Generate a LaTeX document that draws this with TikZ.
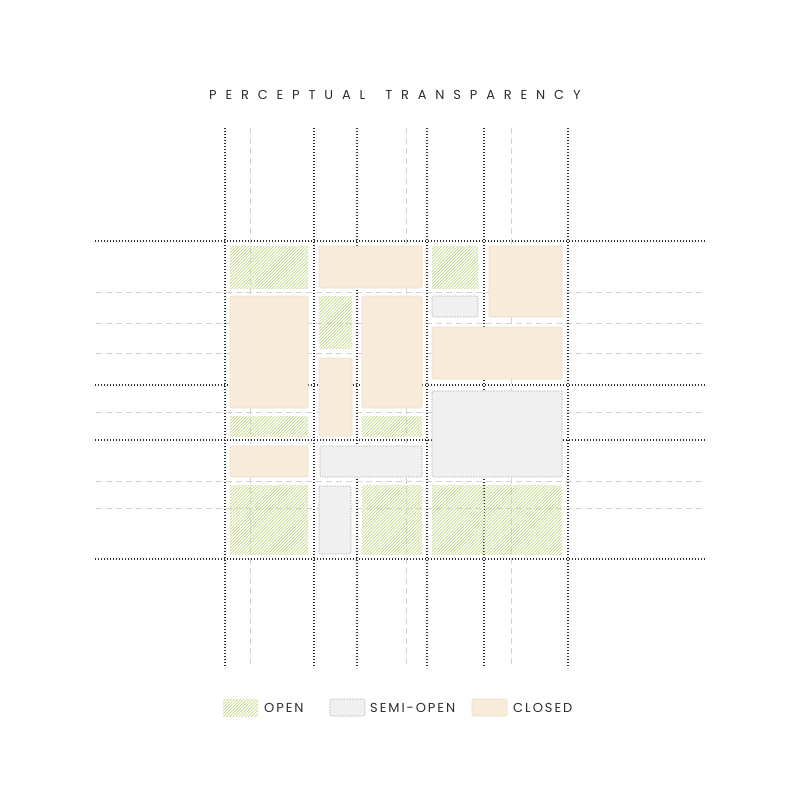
\documentclass[tikz,border=0pt]{standalone}
\usepackage{fontspec}
\setmainfont{Poppins}
\usepackage{tikz}
\usepackage{xcolor}
\usetikzlibrary{patterns.meta}

\definecolor{closedfill}{HTML}{F7EBD9}
\definecolor{closededge}{HTML}{EFDDC6}
\definecolor{semifill}{HTML}{F0F0F0}
\definecolor{semiedge}{HTML}{AAAAAA}
\definecolor{hatchgreen}{HTML}{C6D98C}
\definecolor{gridgray}{HTML}{D2D2D2}
\definecolor{inkdark}{HTML}{2E2E2E}

\tikzset{
  mainline/.style={inkdark, line width=1.6pt, dash pattern=on 1.4pt off 1.6pt},
  subline/.style={gridgray, line width=0.7pt, dash pattern=on 6pt off 4pt},
  openblock/.style={pattern={Lines[angle=45,distance=2.2pt,line width=0.75pt]}, pattern color=hatchgreen},
  semiblock/.style={fill=semifill, draw=semiedge, line width=0.6pt, dash pattern=on 1.5pt off 1.2pt, rounded corners=2pt},
  closedblock/.style={fill=closedfill, draw=closededge, line width=0.7pt, rounded corners=2pt},
  legendtext/.style={anchor=west, inner sep=0pt, font=\fontsize{13}{15}\selectfont\addfontfeature{LetterSpace=15}, text=inkdark}
}

\begin{document}
\begin{tikzpicture}[x=1pt, y=-1pt]
  \useasboundingbox (0,0) rectangle (800,800);

  % title
  \node[anchor=west, inner sep=0pt, text=inkdark,
        font=\fontsize{13}{15}\selectfont\addfontfeature{LetterSpace=68}]
        (title) at (209,95) {PERCEPTUAL\hspace{20pt}TRANSPARENCY};

  % light grid
  \foreach \x in {250,406,511}
    \draw[subline] (\x,128) -- (\x,668);
  \foreach \y in {292,323,353,412,481,508}
    \draw[subline] (96,\y) -- (704,\y);

  % main grid
  \foreach \x in {225,314,357,427,484,568}
    \draw[mainline] (\x,128) -- (\x,668);
  \foreach \y in {241,385,440,559}
    \draw[mainline] (95,\y) -- (705,\y);

  % first column
  \fill[openblock] (230,246) rectangle (308,288);
  \draw[closedblock] (230,296) rectangle (308,408);
  \fill[openblock] (230,416) rectangle (308,436);
  \draw[closedblock] (230,446) rectangle (308,477);
  \fill[openblock] (230,485) rectangle (308,554);

  % second column
  \draw[closedblock] (319,246) rectangle (422,288);
  \fill[openblock] (319,296) rectangle (352,348);
  \draw[closedblock] (362,296) rectangle (422,408);
  \draw[closedblock] (319,358) rectangle (352,436);
  \fill[openblock] (362,416) rectangle (422,436);
  \draw[semiblock] (320,446) rectangle (422,477);
  \draw[semiblock] (319,486) rectangle (351,554);
  \fill[openblock] (362,485) rectangle (422,554);

  % third column
  \fill[openblock] (432,246) rectangle (478,288);
  \draw[semiblock] (432,296) rectangle (478,317);
  \draw[closedblock] (489,246) rectangle (562,317);
  \draw[closedblock] (432,327) rectangle (562,379);
  \draw[semiblock] (432,391) rectangle (562,477);
  \fill[openblock] (432,485) rectangle (562,554);

  % legend
  \fill[openblock] (223,699) rectangle (258,716);
  \node[legendtext] (openlabel) at (264,708) {OPEN};
  \draw[semiblock] (330,699) rectangle (365,716);
  \node[legendtext] (semilabel) at (370,708) {SEMI-OPEN};
  \draw[closedblock] (472,699) rectangle (507,716);
  \node[legendtext] (closedlabel) at (513,708) {CLOSED};
\end{tikzpicture}
\end{document}
